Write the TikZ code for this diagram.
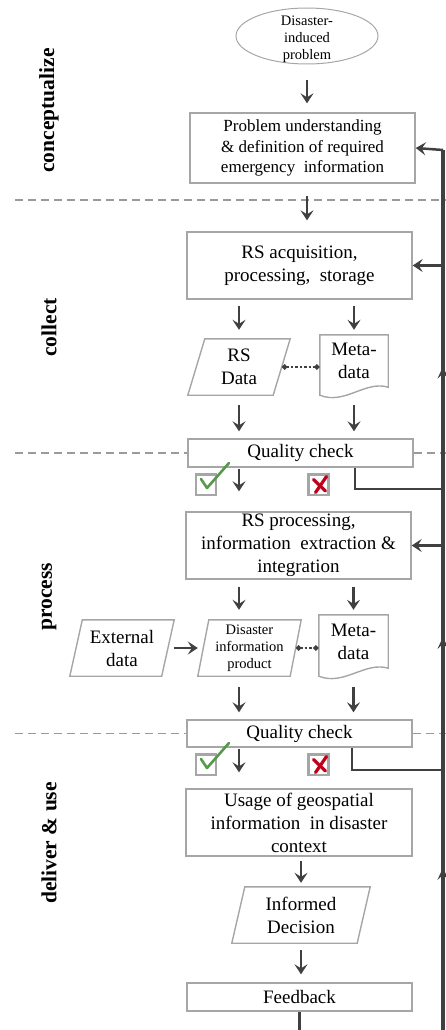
\documentclass[tikz,border=0pt]{standalone}
\usepackage{fontspec}
\setmainfont{Liberation Serif}
\usetikzlibrary{arrows.meta,shapes.geometric,calc,decorations.markings}
\definecolor{boxgray}{HTML}{A6A6A6}
\definecolor{dashgray}{HTML}{9A9A9A}
\definecolor{arrgray}{HTML}{404040}
\definecolor{chkgreen}{HTML}{55994A}
\definecolor{xred}{HTML}{C0001A}
\newcommand\mypgram[2]{\draw[pbox] ($(#1.north west)+(#2,0)$) -- (#1.north east) -- ($(#1.south east)+(-#2,0)$) -- (#1.south west) -- cycle;}
\newcommand\mydoc[1]{\draw[pbox] (#1.north west) -- (#1.north east) -- (#1.south east) .. controls +(-23,-7) and +(25,10) .. ($(#1.south west)+(0,8)$) -- cycle;}
\begin{document}
\begin{tikzpicture}[x=1pt,y=-1pt,
  box/.style={draw=boxgray, line width=1.4pt, fill=white, align=center, inner sep=0pt, font=\fontsize{19}{23}\selectfont},
  txt/.style={align=center, inner sep=0pt, font=\fontsize{19}{23}\selectfont},
  pbox/.style={draw=boxgray, line width=1.4pt},
  arr/.style={draw=arrgray, line width=2.5pt, -{Stealth[length=10pt,width=13pt,inset=4pt]}},
  rail/.style={draw=arrgray, line width=3.8pt},
  fail/.style={draw=arrgray, line width=2.8pt},
  dsh/.style={draw=dashgray, line width=1.3pt, dash pattern=on 8pt off 5pt},
  dotconn/.style={draw=arrgray, line width=2.2pt, dash pattern=on 2.5pt off 2pt, {Diamond[length=6pt,width=6pt]}-{Diamond[length=6pt,width=6pt]}},
  side/.style={rotate=90, inner sep=0pt, font=\fontsize{21.5}{24}\selectfont\bfseries},
  chkbox/.style={draw=boxgray, line width=2.5pt, fill=white, minimum width=20, minimum height=20.5, inner sep=0pt},
  chk/.style={draw=chkgreen, line width=2.6pt, line cap=round, line join=round},
  xmark/.style={draw=xred, line width=3.2pt, line cap=round}
]
\useasboundingbox (0,0) rectangle (446,1030);

% side labels
\node[side] (lconc) at (49,110.5) {conceptualize};
\node[side] (lcoll) at (49,327.5) {collect};
\node[side] (lproc) at (49,597) {process};
\node[side] (ldel) at (49,843) {deliver \& use};

% dashed separators
\coordinate (d0a) at (15,200); \coordinate (d0b) at (446,200);
\draw[dsh] (d0a) -- (d0b);

% nodes
\node[ellipse, draw=boxgray, line width=1pt, minimum width=142, minimum height=56, inner sep=0pt] (ell) at (307,36) {};
\node[font=\fontsize{14.5}{17}\selectfont, align=center, inner sep=0pt] (ellt) at (307,39) {Disaster-\\induced\\problem};
\node[box, font=\fontsize{17}{20.5}\selectfont, minimum width=225, minimum height=70] (box1) at (302.5,148) {Problem understanding\\\& definition of required\\emergency\ \ information};
\node[box, minimum width=225, minimum height=67] (box2) at (299.5,265.5) {RS acquisition,\\processing,\ \ storage};
\node[txt, minimum width=102, minimum height=56] (rsdata) at (239,367) {RS\\Data};
\node[txt, minimum width=68, minimum height=52] (meta1) at (354,361) {Meta-\\data};
\node[box, minimum width=225, minimum height=28] (qc1) at (300.5,453) {Quality check};
\node[chkbox] (chk1) at (206,484.5) {};
\node[chkbox] (xb1) at (318.5,484.5) {};
\node[box, minimum width=225, minimum height=67] (box3) at (298.5,545.5) {RS processing,\\information\ \ extraction \&\\integration};
\node[txt, minimum width=104, minimum height=56] (ext) at (122,648) {External\\data};
\node[txt, font=\fontsize{14.5}{17}\selectfont, minimum width=103, minimum height=56] (dip) at (249.5,648) {Disaster\\information\\product};
\node[txt, minimum width=69, minimum height=53] (meta2) at (353.5,641.5) {Meta-\\data};
\node[box, minimum width=225, minimum height=27] (qc2) at (299.5,733.5) {Quality check};
\node[chkbox] (chk2) at (206,764.5) {};
\node[chkbox] (xb2) at (318.5,764.5) {};
\node[box, minimum width=226, minimum height=67] (box4) at (299,822.5) {Usage of geospatial\\information\ \ in disaster\\context};
\node[txt, minimum width=138, minimum height=56] (inf) at (301,915) {Informed\\Decision};
\node[box, minimum width=225, minimum height=28] (fb) at (299.5,997) {Feedback};

% shapes
\mypgram{rsdata}{17}
\mypgram{ext}{12.5}
\mypgram{dip}{11}
\mypgram{inf}{13}
\mydoc{meta1}
\mydoc{meta2}

% dashed lines by quality checks
\coordinate (d1a) at (15,453); \coordinate (d1b) at (446,453);
\draw[dsh] (d1a) -- (qc1.west); \draw[dsh] (qc1.east) -- (d1b);
\coordinate (d2a) at (15,733.5); \coordinate (d2b) at (446,733.5);
\draw[dsh] (d2a) -- (qc2.west); \draw[dsh] (qc2.east) -- (d2b);

% check marks and crosses
\foreach \c/\x in {chk1/xb1, chk2/xb2}{
  \draw[chk] ([shift={(-5,-5.5)}]\c.center) -- ([shift={(1,3.5)}]\c.center) -- ([shift={(23,-21.5)}]\c.center);
  \draw[xmark] ([shift={(8,-8)}]\x.center) -- ([shift={(-3,8)}]\x.center);
  \draw[xmark] ([shift={(-5,-5)}]\x.center) -- ([shift={(7,6.5)}]\x.center);
}

% main flow arrows
\draw[arr, shorten <=16pt, shorten >=9pt] (ell.south) -- (ell.south |- box1.north);
\draw[arr, shorten <=12pt, shorten >=11pt] (ell.south |- box1.south) -- (ell.south |- box2.north);
\draw[arr, shorten <=6pt, shorten >=9pt] (rsdata.north |- box2.south) -- (rsdata.north);
\draw[arr, shorten <=6pt, shorten >=5pt] (meta1.north |- box2.south) -- (meta1.north);
\draw[arr, shorten <=10pt, shorten >=7pt] (rsdata.south) -- (rsdata.south |- qc1.north);
\draw[arr, shorten <=18pt, shorten >=7pt] (meta1.south) -- (meta1.south |- qc1.north);
\draw[arr, shorten <=1pt, shorten >=20pt] (rsdata.south |- qc1.south) -- (rsdata.south |- box3.north);
\draw[arr, shorten <=7pt, shorten >=10pt] (rsdata.south |- box3.south) -- (rsdata.south |- dip.north);
\draw[arr, shorten <=7pt, shorten >=5pt] (meta2.north |- box3.south) -- (meta2.north);
\draw[arr] (ext.east) -- (dip.west);
\draw[arr, shorten <=11pt, shorten >=7pt] (rsdata.south |- dip.south) -- (rsdata.south |- qc2.north);
\draw[arr, shorten <=19pt, shorten >=7pt] (meta2.south) -- (meta2.south |- qc2.north);
\draw[arr, shorten <=1pt, shorten >=16pt] (rsdata.south |- qc2.south) -- (rsdata.south |- box4.north);
\draw[arr, shorten <=4pt, shorten >=4pt] (inf.north |- box4.south) -- (inf.north);
\draw[arr, shorten <=7pt, shorten >=8pt] (inf.south) -- (inf.south |- fb.north);

% dotted links
\draw[dotconn] ($(rsdata.east)+(-8.5,0)$) -- (rsdata.east -| meta1.west);
\draw[dotconn] ($(dip.east)+(-5.5,0)$) -- (dip.east -| meta2.west);

% feedback rail
\coordinate (railtop) at (443,150);
\coordinate (railbot) at (443,1045);
\coordinate (f1) at (355,489);
\coordinate (f2) at (352,770);
\draw[rail] (fb.south) |- (railbot);
\draw[rail, postaction={decorate}, decoration={markings,
   mark=at position 0.198 with {\arrow{Stealth[length=12pt,width=11pt,inset=5pt]}},
   mark=at position 0.456 with {\arrow{Stealth[length=12pt,width=11pt,inset=5pt]}},
   mark=at position 0.758 with {\arrow{Stealth[length=12pt,width=11pt,inset=5pt]}}}]
   (railbot) -- (railtop);
\draw[arr] (railtop) -- (box1.east);
\draw[arr] (box2.east -| railtop) -- (box2.east);
\draw[arr] (box3.east -| railtop) -- (box3.east);
\draw[fail] (qc1.south -| f1) |- (f1 -| railtop);
\draw[fail] (qc2.south -| f2) |- (f2 -| railtop);
\end{tikzpicture}
\end{document}
